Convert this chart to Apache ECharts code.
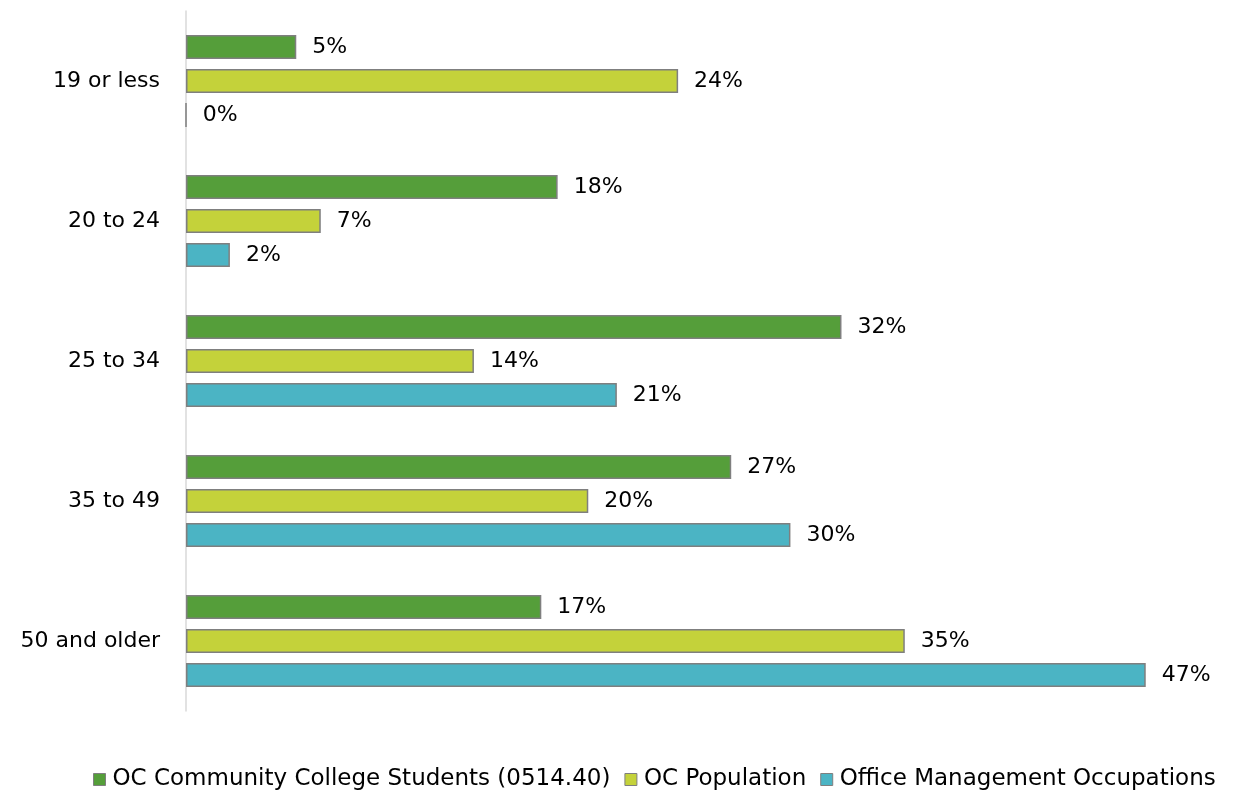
<!DOCTYPE html>
<html><head><meta charset="utf-8">
<script src="https://cdn.jsdelivr.net/npm/echarts@6/dist/echarts.min.js"></script>
<style>html,body{margin:0;padding:0;background:#fff}#c{width:1244px;height:803px}</style>
</head><body><div id="c"></div>
<script>
const categories = ['19 or less', '20 to 24', '25 to 34', '35 to 49', '50 and older'];
const seriesNames = ['OC Community College Students (0514.40)', 'OC Population', 'Office Management Occupations'];
const students = [5.4, 18.2, 32.1, 26.7, 17.4];
const population = [24.1, 6.6, 14.1, 19.7, 35.2];
const occupations = [0.0, 2.15, 21.1, 29.6, 47.0];
const colors = ['#559e3a', '#c4d23a', '#4bb4c4'];

const FONT = 'DejaVu Sans';
const chart = echarts.init(document.getElementById('c'));
const mk = (name, data, color) => ({
  name, type: 'bar', data, barWidth: 24, barGap: '42%',
  itemStyle: { color, borderColor: '#7f7f7f', borderWidth: 1.5 },
  label: { show: true, position: 'right', distance: 16, color: '#000', fontFamily: FONT, fontSize: 22,
    formatter: p => Math.round(p.value) + '%' },
  emphasis: { disabled: true }
});
chart.setOption({
  animation: false,
  textStyle: { fontFamily: FONT },
  grid: { left: 186, right: 37, top: 11, bottom: 92, containLabel: false },
  legend: {
    bottom: 7, left: 88, itemWidth: 12, itemHeight: 12, itemGap: 14,
    textStyle: { fontFamily: FONT, fontSize: 23, color: '#000', padding: [0, 0, 0, 2] },
    data: seriesNames.map(n => ({ name: n, icon: 'rect', itemStyle: { borderColor: '#7f7f7f', borderWidth: 1 } }))
  },
  xAxis: { type: 'value', min: 0, max: 50, show: false },
  yAxis: {
    type: 'category', data: categories, inverse: true,
    axisLine: { show: true, lineStyle: { color: '#d9d9d9', width: 1.5 } },
    axisTick: { show: false },
    axisLabel: { color: '#000', fontFamily: FONT, fontSize: 22, margin: 26 }
  },
  series: [mk(seriesNames[0], students, colors[0]), mk(seriesNames[1], population, colors[1]), mk(seriesNames[2], occupations, colors[2])]
});
</script></body></html>
